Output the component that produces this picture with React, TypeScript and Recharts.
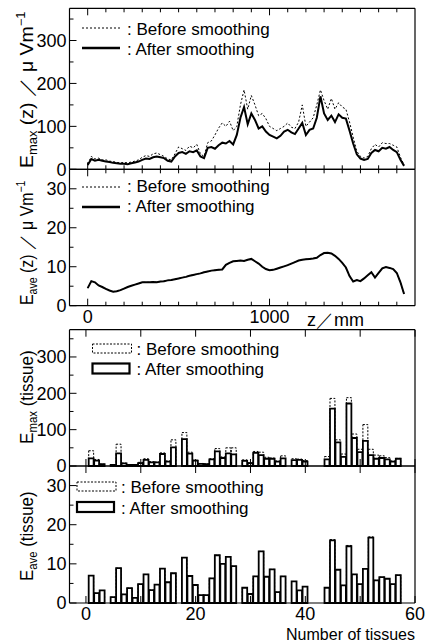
import React from 'react';
import { LineChart, ComposedChart, Line, Bar, XAxis, YAxis, Customized } from 'recharts';

const FONT = '"Liberation Sans", Arial, Helvetica, sans-serif';
const W = 425;
const H = 641;
const LEFT = 69.5;
const RIGHT = 415;

// ---- profile along z (mm) ----
const zPos = [
  0, 20, 40, 60, 80, 100, 120, 140, 160, 180, 200, 220, 240, 260, 280, 300, 320, 340, 360, 380,
  400, 420, 440, 460, 480, 500, 520, 540, 560, 580, 600, 620, 640, 660, 680, 700, 720, 740, 760, 780,
  800, 820, 840, 860, 880, 900, 920, 940, 960, 980, 1000, 1020, 1040, 1060, 1080, 1100, 1120, 1140, 1160, 1180,
  1200, 1220, 1240, 1260, 1280, 1300, 1320, 1340, 1360, 1380, 1400, 1420, 1440, 1460, 1480, 1500, 1520, 1540, 1560, 1580,
  1600, 1620, 1640, 1660, 1680, 1700, 1720, 1740,
];
const emaxZBefore = [
  12, 30, 24, 26, 22, 22, 19, 18, 16, 15, 16, 15, 17, 19, 22, 28, 32, 30, 36, 38,
  34, 30, 24, 22, 36, 52, 48, 44, 54, 50, 58, 36, 30, 62, 66, 80, 96, 108, 100, 112,
  90, 100, 150, 185, 140, 172, 150, 125, 130, 118, 100, 95, 90, 95, 100, 108, 98, 95, 110, 150,
  100, 110, 120, 150, 185, 160, 140, 165, 140, 155, 145, 140, 110, 75, 42, 30, 26, 30, 48, 58,
  52, 62, 60, 60, 56, 52, 28, 10,
];
const emaxZAfter = [
  10, 24, 20, 22, 20, 18, 17, 15, 14, 13, 13, 12, 14, 16, 18, 22, 25, 24, 28, 30,
  28, 26, 20, 18, 30, 38, 40, 36, 42, 40, 44, 30, 26, 50, 52, 48, 56, 62, 60, 66,
  58, 80, 120, 145, 105, 130, 115, 95, 100, 88, 80, 76, 72, 78, 88, 92, 86, 82, 95, 108,
  80, 92, 95, 120, 170, 130, 115, 125, 110, 128, 120, 118, 90, 60, 35, 25, 22, 24, 38, 45,
  42, 50, 48, 52, 45, 40, 22, 8,
];
const eaveZ = [
  4.5, 6.3, 6.0, 5.2, 4.8, 4.3, 3.9, 3.6, 3.7, 4.0, 4.4, 4.8, 5.1, 5.4, 5.7, 6.0, 6.0, 6.0, 6.1, 6.0,
  6.2, 6.3, 6.5, 6.6, 6.8, 7.0, 7.2, 7.4, 7.7, 7.9, 8.1, 8.3, 8.6, 8.8, 9.0, 9.1, 9.2, 9.3, 10.5, 11.0,
  11.4, 11.5, 11.6, 11.5, 11.8, 12.0, 11.4, 10.8, 10.0, 9.4, 9.1, 9.2, 9.5, 9.8, 10.1, 10.4, 10.8, 11.2, 11.6, 11.8,
  11.9, 12.0, 12.1, 12.3, 13.0, 13.5, 13.6, 13.4, 12.8, 12.0, 11.0, 9.8, 7.6, 6.2, 6.6, 6.3, 7.0, 7.8, 8.6, 7.2,
  8.4, 9.6, 9.9, 9.7, 9.4, 8.4, 6.0, 3.0,
];

// ---- per tissue ----
const tissues = [
  1, 2, 3, 4, 5, 6, 7, 8, 9, 10, 11, 12, 13, 14, 15, 16, 17, 18, 19, 20,
  21, 22, 23, 24, 25, 26, 27, 28, 29, 30, 31, 32, 33, 34, 35, 36, 37, 38, 39, 40,
  41, 42, 43, 44, 45, 46, 47, 48, 49, 50, 51, 52, 53, 54, 55, 56, 57,
];
const emaxTBefore = [
  42, 18, 5, 0, 3, 60, 8, 4, 3, 10, 20, 12, 11, 36, 14, 72, 0, 92, 38, 16,
  7, 6, 20, 48, 25, 50, 50, 0, 17, 9, 40, 38, 24, 22, 14, 28, 0, 20, 19, 15,
  0, 0, 0, 26, 186, 72, 33, 188, 88, 46, 114, 46, 30, 28, 23, 14, 21,
];
const emaxTAfter = [
  21, 15, 5, 0, 3, 35, 7, 3, 3, 8, 17, 10, 10, 33, 12, 51, 0, 74, 34, 15,
  6, 5, 18, 40, 22, 35, 32, 0, 14, 8, 36, 30, 20, 20, 12, 21, 0, 16, 17, 12,
  0, 0, 0, 18, 158, 65, 25, 172, 77, 38, 69, 30, 20, 22, 18, 12, 20,
];
const eaveTBefore = [
  7.0, 2.5, 3.2, 0, 1.5, 8.9, 2.2, 3.8, 1.3, 4.8, 7.3, 3.3, 4.7, 8.8, 5.3, 7.6, 0, 11.6, 6.9, 4.6,
  2.0, 2.0, 6.3, 12.2, 10.0, 11.8, 9.4, 0, 3.9, 2.3, 6.8, 13.2, 6.7, 8.6, 2.8, 6.8, 0, 5.5, 3.2, 4.2,
  0, 0, 0, 3.9, 16.2, 8.5, 4.5, 14.7, 7.3, 4.8, 8.7, 16.9, 5.8, 6.6, 6.2, 4.8, 7.1,
];
const eaveTAfter = [
  7.0, 2.5, 3.2, 0, 1.5, 8.9, 2.2, 3.8, 1.3, 4.8, 7.3, 3.3, 4.7, 8.8, 5.3, 7.6, 0, 11.6, 6.9, 4.6,
  2.0, 2.0, 6.3, 12.2, 10.0, 11.8, 9.4, 0, 3.9, 2.3, 6.8, 13.2, 6.7, 8.6, 2.8, 6.8, 0, 5.5, 3.2, 4.2,
  0, 0, 0, 3.9, 16.0, 8.5, 4.5, 14.5, 7.3, 4.8, 8.7, 16.7, 5.8, 6.6, 6.2, 4.8, 7.1,
];

// ---- ticks ----
const zTicks = [0, 100, 200, 300, 400, 500, 600, 700, 800, 900, 1000, 1100, 1200, 1300, 1400, 1500, 1600, 1700];
const zLabels = [0, 1000];
const tTicks = [0, 10, 20, 30, 40, 50, 60];
const tLabels = [0, 20, 40, 60];
const emaxTicks = [0, 50, 100, 150, 200, 250, 300, 350];
const emaxLabels = [0, 100, 200, 300];
const eaveTicks = [0, 5, 10, 15, 20, 25, 30];
const eaveLabels = [0, 10, 20, 30];

const zData = zPos.map((z, i) => ({ z, before: emaxZBefore[i], after: emaxZAfter[i], aveB: eaveZ[i], aveA: eaveZ[i] }));
const tData = tissues.map((t, i) => ({
  t, maxB: emaxTBefore[i], maxA: emaxTAfter[i], aveB: eaveTBefore[i], aveA: eaveTAfter[i],
}));

type Side = 'left' | 'right' | 'top' | 'bottom';

const tickFor = (side: Side, labels: number[] = [], long: number[] = labels, labelGap = 17) => (props: any) => {
  const { x, y, payload } = props;
  const v = payload.value;
  const len = long.includes(v) ? 7 : 4;
  const show = labels.includes(v);
  let line: any = null;
  let label: any = null;
  if (side === 'left') {
    line = <line x1={x} y1={y} x2={x + len} y2={y} />;
    if (show) label = <text x={x - 3} y={y} dy="0.36em" textAnchor="end">{v}</text>;
  } else if (side === 'right') {
    line = <line x1={x} y1={y} x2={x - len} y2={y} />;
  } else if (side === 'top') {
    line = <line x1={x} y1={y} x2={x} y2={y + len} />;
  } else {
    line = <line x1={x} y1={y} x2={x} y2={y - len} />;
    if (show) label = <text x={x} y={y + labelGap} textAnchor="middle">{v}</text>;
  }
  return (
    <g>
      <g stroke="#000" strokeWidth={1}>{line}</g>
      {label && <g fill="#000" stroke="none" fontSize={18} fontFamily={FONT}>{label}</g>}
    </g>
  );
};

const axisLine = { stroke: '#000', strokeWidth: 1.2 };
const common = { tickSize: 0, tickMargin: 0, tickLine: false, axisLine, interval: 0 as const };

// axes are 1px thick (a zero-size axis is not drawn); margins below compensate
function frame(xKey: string, xDomain: number[], xTicks: number[], xLabels: number[], xLong: number[], yDomain: number[], yTicks: number[], yLabels: number[]) {
  return [
    <XAxis key="xb" xAxisId="b" type="number" dataKey={xKey} domain={xDomain} ticks={xTicks} height={1}
      {...common} tick={tickFor('bottom', xLabels, xLong)} />,
    <XAxis key="xt" xAxisId="t" orientation="top" type="number" dataKey={xKey} domain={xDomain} ticks={xTicks} height={1}
      {...common} tick={tickFor('top', [], xLong)} />,
    <YAxis key="yl" yAxisId="l" type="number" domain={yDomain} ticks={yTicks} width={1}
      {...common} tick={tickFor('left', yLabels)} />,
    <YAxis key="yr" yAxisId="r" orientation="right" type="number" domain={yDomain} ticks={yTicks} width={1}
      {...common} tick={tickFor('right', [], yLabels)} />,
  ];
}

// rotated axis title; `stretch` scales it along its length
function YTitle({ bottom, sub, rest, sup, stretch = 1 }: { bottom: number; sub: string; rest: string; sup?: string; stretch?: number }) {
  return (
    <text transform={`translate(33 ${bottom}) rotate(-90) scale(${stretch} 1)`} x={0} y={0} fontSize={18} fontFamily={FONT} fill="#000">
      <tspan>E</tspan>
      <tspan fontSize={12} dy={4}>{sub}</tspan>
      <tspan dy={-4}>{rest}</tspan>
      {sup && <tspan fontSize={12} dy={-8}>{sup}</tspan>}
    </text>
  );
}

function LineKey({ x, y1, y2, gap }: { x: number; y1: number; y2: number; gap: number }) {
  return (
    <g fontFamily={FONT} fontSize={17} fill="#000">
      <line x1={x} x2={x + 38} y1={y1} y2={y1} stroke="#000" strokeWidth={1} strokeDasharray="2 2" />
      <text x={x + 45} y={y1 + gap}>: Before smoothing</text>
      <line x1={x} x2={x + 38} y1={y2} y2={y2} stroke="#000" strokeWidth={2.5} />
      <text x={x + 45} y={y2 + gap}>: After smoothing</text>
    </g>
  );
}

function BarKey({ x, y1, y2 }: { x: number; y1: number; y2: number }) {
  return (
    <g fontFamily={FONT} fontSize={17} fill="#000">
      <rect x={x} y={y1} width={39} height={9} fill="none" stroke="#000" strokeWidth={1} strokeDasharray="2 1.5" />
      <text x={x + 44} y={y1 + 11}>: Before smoothing</text>
      <rect x={x} y={y2} width={37} height={10} fill="none" stroke="#000" strokeWidth={2.2} />
      <text x={x + 44} y={y2 + 11.5}>: After smoothing</text>
    </g>
  );
}

const layer: React.CSSProperties = { position: 'absolute', left: 0, top: 0 };
const margin = (top: number, bottom: number) => ({ top: top - 1, bottom: H - bottom - 1, left: LEFT - 1, right: W - RIGHT - 1 });

export default function App() {
  return (
    <div style={{ position: 'absolute', left: 0, top: 0, width: W, height: H, background: '#fff' }}>
      {/* E_max(z) */}
      <div style={layer}>
        <LineChart width={W} height={H} data={zData} margin={margin(8.3, 169.3)}>
          {frame('z', [-100, 1800], zTicks, [], zLabels, [0, 375], emaxTicks, emaxLabels)}
          <Line xAxisId="b" yAxisId="l" dataKey="before" stroke="#000" strokeWidth={1} strokeDasharray="2 2" dot={false} isAnimationActive={false} />
          <Line xAxisId="b" yAxisId="l" dataKey="after" stroke="#000" strokeWidth={2} dot={false} isAnimationActive={false} />
          <Customized component={() => (
            <g>
              <YTitle bottom={168} sub="max" rest=" (z) ／ μ Vm" sup="−1" stretch={1.08} />
              <LineKey x={82} y1={28} y2={48} gap={7} />
            </g>
          )} />
        </LineChart>
      </div>
      {/* E_ave(z) */}
      <div style={layer}>
        <LineChart width={W} height={H} data={zData} margin={margin(169.3, 305.7)}>
          {frame('z', [-100, 1800], zTicks, zLabels, zLabels, [0, 35], eaveTicks, eaveLabels)}
          <Line xAxisId="b" yAxisId="l" dataKey="aveB" stroke="#000" strokeWidth={1} strokeDasharray="2 2" dot={false} isAnimationActive={false} />
          <Line xAxisId="b" yAxisId="l" dataKey="aveA" stroke="#000" strokeWidth={2} dot={false} isAnimationActive={false} />
          <Customized component={() => (
            <g>
              <YTitle bottom={305} sub="ave" rest=" (z) ／ μ Vm" sup="−1" stretch={0.88} />
              <LineKey x={82} y1={187} y2={207} gap={5} />
              <text x={307} y={326} fontSize={18} fontFamily={FONT} fill="#000">z／mm</text>
            </g>
          )} />
        </LineChart>
      </div>
      {/* E_max(tissue) */}
      <div style={layer}>
        <ComposedChart width={W} height={H} data={tData} margin={margin(329.7, 466)}>
          {frame('t', [-3, 60], tTicks, [], tTicks, [0, 375], emaxTicks, emaxLabels)}
          <XAxis xAxisId="h" type="number" dataKey="t" domain={[-3, 60]} hide />
          <Bar xAxisId="h" yAxisId="l" dataKey="maxB" barSize={5.5} fill="none" stroke="#000" strokeWidth={1} strokeDasharray="2 1.5" isAnimationActive={false} />
          <Bar xAxisId="b" yAxisId="l" dataKey="maxA" barSize={5.5} fill="#fff" stroke="#000" strokeWidth={1.8} isAnimationActive={false} />
          <Customized component={() => (
            <g>
              <YTitle bottom={444} sub="max" rest=" (tissue)" stretch={0.95} />
              <BarKey x={92.5} y1={344} y2={363.5} />
            </g>
          )} />
        </ComposedChart>
      </div>
      {/* E_ave(tissue) */}
      <div style={layer}>
        <ComposedChart width={W} height={H} data={tData} margin={margin(466, 603)}>
          {frame('t', [-3, 60], tTicks, tLabels, tTicks, [0, 35], eaveTicks, eaveLabels)}
          <XAxis xAxisId="h" type="number" dataKey="t" domain={[-3, 60]} hide />
          <Bar xAxisId="h" yAxisId="l" dataKey="aveB" barSize={5.5} fill="none" stroke="#000" strokeWidth={1} strokeDasharray="2 1.5" isAnimationActive={false} />
          <Bar xAxisId="b" yAxisId="l" dataKey="aveA" barSize={5.5} fill="#fff" stroke="#000" strokeWidth={1.8} isAnimationActive={false} />
          <Customized component={() => (
            <g>
              <YTitle bottom={581} sub="ave" rest=" (tissue)" stretch={0.94} />
              <BarKey x={77} y1={482} y2={502} />
              <text x={415} y={639.5} textAnchor="end" fontSize={16} fontFamily={FONT} fill="#000">Number of tissues</text>
            </g>
          )} />
        </ComposedChart>
      </div>
    </div>
  );
}
